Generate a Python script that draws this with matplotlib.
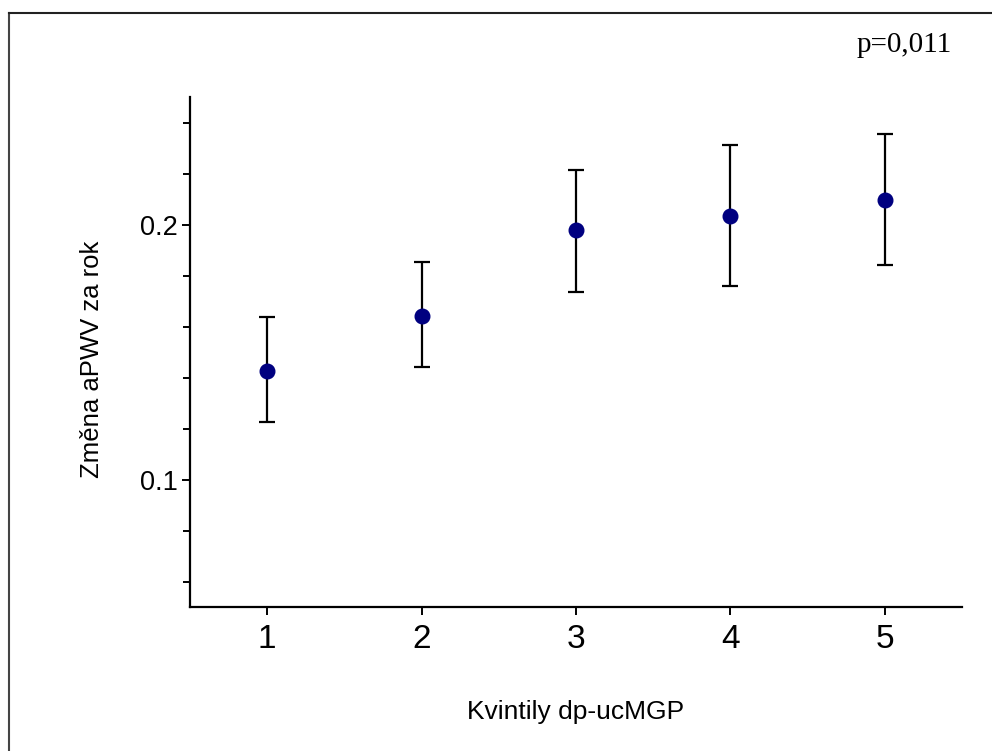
import matplotlib
matplotlib.use('Agg')
import matplotlib.pyplot as plt
from matplotlib.ticker import MultipleLocator, FuncFormatter
from matplotlib.lines import Line2D

# Kvintily dp-ucMGP vs. annual change of aPWV
quintiles = [1, 2, 3, 4, 5]
mean_change = [0.1426, 0.1641, 0.1977, 0.2035, 0.2098]
ci_low = [0.1227, 0.1441, 0.1734, 0.1758, 0.1840]
ci_high = [0.1637, 0.1852, 0.2215, 0.2313, 0.2355]
p_text = 'p=0,011'

plt.rcParams['font.family'] = ['Liberation Sans', 'DejaVu Sans']

fig = plt.figure(figsize=(9.92, 7.51), dpi=100)
ax = fig.add_axes([0.1915, 0.1917, 0.7783, 0.6791])

yerr = [[m - lo for m, lo in zip(mean_change, ci_low)],
        [hi - m for m, hi in zip(mean_change, ci_high)]]
ax.errorbar(quintiles, mean_change, yerr=yerr, fmt='none', ecolor='black',
            elinewidth=1.6, capsize=6, capthick=1.6, zorder=2)
ax.plot(quintiles, mean_change, 'o', color='#000080', markersize=10.5, zorder=3)

ax.set_xlim(0.5, 5.5)
ax.set_ylim(0.05, 0.25)
ax.set_xticks(quintiles)
ax.yaxis.set_major_locator(MultipleLocator(0.1))
ax.yaxis.set_minor_locator(MultipleLocator(0.02))
ax.yaxis.set_major_formatter(FuncFormatter(lambda v, pos: '{:.1f}'.format(v)))

for side in ['top', 'right']:
    ax.spines[side].set_visible(False)
for side in ['left', 'bottom']:
    ax.spines[side].set_linewidth(1.6)

ax.tick_params(axis='x', length=6, width=1.4, labelsize=24, pad=6)
ax.tick_params(axis='y', which='major', length=6, width=1.4, labelsize=19.5, pad=3)
ax.tick_params(axis='y', which='minor', length=5, width=1.4)

ax.set_xlabel('Kvintily dp-ucMGP', fontsize=19)
ax.set_ylabel('Změna aPWV za rok', fontsize=18.5)
ax.xaxis.set_label_coords(0.5, -0.183)
ax.yaxis.set_label_coords(-0.111, 0.485)

fig.text(0.959, 0.94, p_text, fontsize=21, family='Liberation Serif',
         ha='right', va='center')

# frame around the picture (left and top edges)
fig.add_artist(Line2D([9 / 992, 9 / 992], [0, 1 - 13 / 751], color='#444444', lw=1.5))
fig.add_artist(Line2D([9 / 992, 1], [1 - 13 / 751, 1 - 13 / 751], color='#222222', lw=1.5))

fig.savefig('out.png', dpi=100)
